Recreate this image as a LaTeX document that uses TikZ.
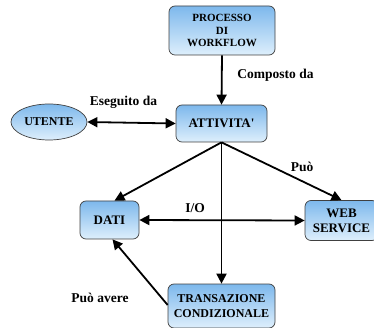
\documentclass[tikz,border=0pt]{standalone}
\usepackage{fontspec}
\setmainfont{Liberation Serif}[Ligatures=TeXOff]
\usetikzlibrary{arrows.meta,shapes.geometric}
\definecolor{boxtop}{RGB}{125,184,236}
\definecolor{boxbot}{RGB}{222,239,252}
\begin{document}
\begin{tikzpicture}[x=1pt,y=-1pt,
  box/.style={draw=black!75, line width=0.7pt, rounded corners=6pt, top color=boxtop, bottom color=boxbot, inner sep=0pt, align=center, font=\bfseries\fontsize{13}{15}\selectfont},
  oval/.style={box, ellipse, rounded corners=0pt},
  lbl/.style={font=\bfseries\fontsize{13.5}{15}\selectfont, inner sep=0pt},
  conn/.style={line width=1.8pt, -{Triangle[length=10pt,width=10pt]}},
  bconn/.style={line width=1.8pt, {Triangle[length=10pt,width=10pt]}-{Triangle[length=10pt,width=10pt]}}
]
\useasboundingbox (0,0) rectangle (374,328);
\node[box, minimum width=106pt, minimum height=49pt, font=\bfseries\fontsize{11}{12.5}\selectfont] (proc) at (222,30.5) {PROCESSO\\DI\\WORKFLOW};
\node[box, minimum width=91pt, minimum height=37pt] (att) at (221.5,123.5) {ATTIVITA'};
\node[oval, minimum width=76pt, minimum height=36pt, font=\bfseries\fontsize{12}{14}\selectfont] (ute) at (49,122) {UTENTE};
\node[box, minimum width=59pt, minimum height=38pt] (dati) at (109.5,220) {DATI};
\node[box, minimum width=73pt, minimum height=40pt] (web) at (341.5,220.5) {WEB\\SERVICE};
\node[box, minimum width=107pt, minimum height=44pt, font=\bfseries\fontsize{12}{15}\selectfont] (trans) at (221.5,306) {TRANSAZIONE\\CONDIZIONALE};

\draw[conn] (proc.south) -- (att.north);
\draw[bconn] (ute.east) -- (att.west);
\draw[conn] (att.south) -- ([xshift=5pt]dati.north);
\draw[conn] (att.south) -- (web.north);
\draw[conn] (att.south) -- (trans.north);
\draw[bconn] (dati.east) -- (web.west);
\draw[conn] ([yshift=1pt]trans.west) -- ([xshift=3pt]dati.south);

\node[lbl] (l1) at (275.5,75) {Composto da};
\node[lbl] (l2) at (123.5,102) {Eseguito da};
\node[lbl] (l3) at (302,167) {Può};
\node[lbl] (l4) at (195,208) {I/O};
\node[lbl] (l5) at (100,298) {Può avere};
\end{tikzpicture}
\end{document}
